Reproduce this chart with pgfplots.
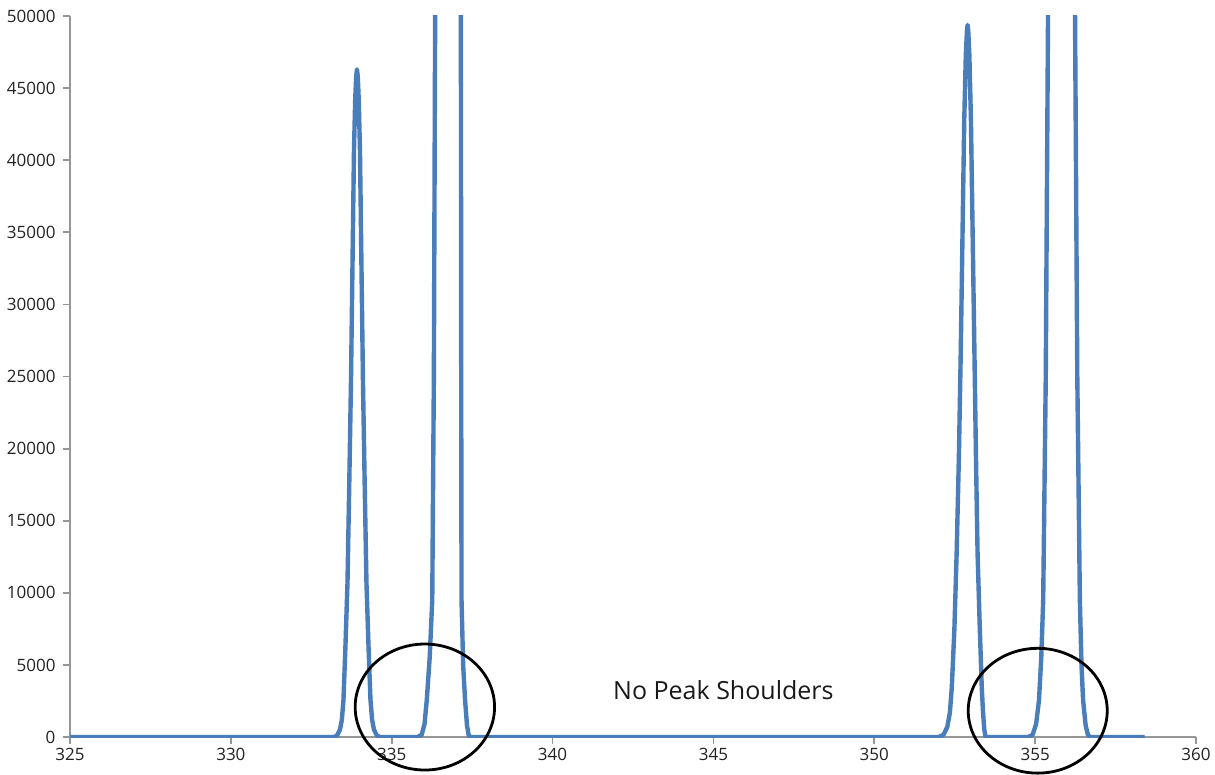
\documentclass[border=0pt]{standalone}
\usepackage{pgfplots}
\pgfplotsset{compat=1.18}
\usepackage{fontspec}
\setmainfont{Open Sans}
\definecolor{lineblue}{RGB}{74,126,187}
\definecolor{axgray}{RGB}{150,150,150}
\definecolor{txt}{RGB}{35,35,35}
\begin{document}
\begin{tikzpicture}
\begin{axis}[
  scale only axis,
  width=1126pt, height=721pt,
  xmin=325, xmax=360, ymin=0, ymax=50000,
  axis x line*=bottom, axis y line*=left,
  axis line style={axgray, line width=2.2pt},
  tick style={axgray, line width=1.8pt},
  tick align=outside,
  major tick length=7pt,
  xtick={325,330,...,360},
  ytick={0,5000,...,50000},
  scaled y ticks=false,
  /pgf/number format/.cd, set thousands separator={}, assume math mode=true,
  /pgfplots/.cd,
  ticklabel style={font=\fontsize{17}{20}\selectfont, text=txt},
  yticklabel style={xshift=-4pt},
  xticklabel style={yshift=-1pt},
  clip=true,
]
\addplot[lineblue, line width=4.4pt, line join=round] coordinates {
(325,0) (333.205,0)
(333.30,100) (333.39,500) (333.45,1200) (333.50,2570) (333.56,6200) (333.625,10680)
(333.68,17500) (333.733,24550) (333.78,32600) (333.827,40700) (333.865,44200) (333.895,45800)
(333.92,46300)
(333.945,45800) (333.975,44200) (334.013,40700) (334.06,32600) (334.107,24550) (334.16,17500)
(334.215,10680) (334.28,6200) (334.34,2570) (334.39,1200) (334.45,500) (334.54,100) (334.635,0)
(335.80,0) (335.93,150) (336.02,900) (336.09,2570) (336.18,5500) (336.26,9500) (336.31,25000)
(336.35,50000) (336.45,200000) (336.72,350000) (337.00,200000) (337.15,50000) (337.16,25000)
(337.17,9500) (337.22,5000) (337.28,2570) (337.34,800) (337.39,150) (337.43,0)
(352.00,0) (352.15,150) (352.27,700) (352.35,1700) (352.41,3470) (352.49,7500) (352.56,12760)
(352.63,19500) (352.687,26630) (352.74,34500) (352.796,42790) (352.845,47300) (352.878,48900)
(352.90,49380)
(352.922,48900) (352.955,47300) (353.004,42790) (353.06,34500) (353.113,26630) (353.16,19500)
(353.21,12760) (353.28,7500) (353.34,3470) (353.38,1700) (353.42,500) (353.46,0)
(354.78,0) (354.92,150) (355.03,900) (355.12,2570) (355.19,5500) (355.25,9500) (355.33,25000)
(355.40,50000) (355.50,200000) (355.82,350000) (356.14,200000) (356.24,50000) (356.31,25000)
(356.39,9500) (356.44,5000) (356.49,2570) (356.57,800) (356.64,150) (356.71,0)
(358.4,0)
};
\end{axis}
\begin{axis}[
  scale only axis,
  width=1126pt, height=721pt,
  xmin=325, xmax=360, ymin=0, ymax=50000,
  hide axis, clip=false,
]
\draw[black, line width=2.8pt] (axis cs:336.03,2080) ellipse [x radius=69.7pt, y radius=63pt];
\draw[black, line width=2.8pt] (axis cs:355.08,1824) ellipse [x radius=69.5pt, y radius=62.4pt];
\node[font=\fontsize{25}{29}\selectfont, text=black!90] at (axis cs:345.31,3260) {No Peak Shoulders};
\end{axis}
\pgfresetboundingbox
\path[use as bounding box] ([shift={(-70pt,-37pt)}]current axis.south west) rectangle ([shift={(19pt,16pt)}]current axis.north east);
\end{tikzpicture}
\end{document}
